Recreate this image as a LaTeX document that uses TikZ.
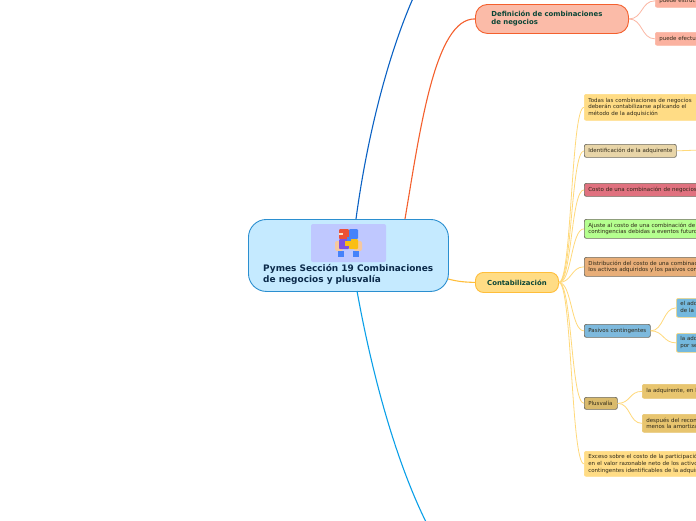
\documentclass[tikz,border=0pt]{standalone}
\usepackage{fontspec}
\setmainfont{DejaVu Sans}
\definecolor{ink}{HTML}{2E2818}
\definecolor{lineyel}{HTML}{FFD97A}
\definecolor{linered}{HTML}{FBB7A4}
\definecolor{cfill}{HTML}{C5EAFF}
\definecolor{cdraw}{HTML}{2B8FD0}
\definecolor{rfill}{HTML}{FBBBA8}
\definecolor{rdraw}{HTML}{F4602E}
\definecolor{yfill}{HTML}{FFDC85}
\definecolor{ydraw}{HTML}{FFBE3A}
\definecolor{greyd}{HTML}{6E6A5E}
\definecolor{navy}{HTML}{0B2A4A}
\definecolor{dkgreen}{HTML}{0A4536}
\definecolor{linedb}{HTML}{0B62C4}
\definecolor{linelb}{HTML}{0BA0E8}
\definecolor{skin}{HTML}{F5C8A0}
\definecolor{pblue}{HTML}{4682FA}
\definecolor{pred}{HTML}{EB5037}
\definecolor{ppur}{HTML}{7D50E1}
\definecolor{pyel}{HTML}{FABE14}
\definecolor{tan}{HTML}{E8C56F}
\tikzset{
  x=1pt,y=-1pt,
  box/.style={draw,rounded corners=2pt,line width=0.7pt,anchor=north west,inner xsep=4pt,inner ysep=0pt,align=left,font=\fontsize{5.5}{6.8}\selectfont,text=ink},
  major/.style={draw,line width=0.9pt,anchor=north west,inner xsep=0pt,inner ysep=0pt,align=left,font=\fontsize{6.9}{8}\selectfont\bfseries},
  conn/.style={draw=#1,line width=0.8pt},
  maincon/.style={draw=#1,line width=1.1pt},
}
\begin{document}
\begin{tikzpicture}
\useasboundingbox (0,0) rectangle (696,520);
\clip (0,0) rectangle (696,520);
\fill[white] (0,0) rectangle (696,520);
% free ends
\coordinate (topblue) at (414,-4);
\coordinate (botblue) at (427,524);
\coordinate (adqend) at (700,150);
\coordinate (ctop) at (356,219);
\coordinate (cbot) at (357,291);
\coordinate (cred) at (405,219);
\coordinate (cyel) at (448,279);
% major nodes
\node[major,draw=cdraw,fill=cfill,rounded corners=18pt,minimum width=200pt,minimum height=72pt] (center) at (248,219) {};
\node[major,draw=rdraw,fill=rfill,rounded corners=12pt,minimum width=153pt,minimum height=29pt,text width=121pt,text=dkgreen,inner xsep=16pt] (defin) at (475,4) {Definición de combinaciones\\de negocios};
\node[major,draw=ydraw,fill=yfill,rounded corners=8pt,minimum width=83pt,minimum height=20pt,text=dkgreen,align=center] (conta) at (475,272) {Contabilización};
% main connectors
\draw[maincon=linedb] (ctop) .. controls (368,130) and (390,50) .. (topblue);
\draw[maincon=rdraw] (cred) .. controls (420,130) and (435,18) .. (defin.west);
\draw[maincon=linelb] (cbot) .. controls (375,390) and (400,470) .. (botblue);
\draw[maincon=ydraw] (cyel) .. controls (460,282) and (465,282) .. (conta.west);
% title and picture
\node[anchor=north west,inner sep=0pt,align=left,text=navy,font=\fontsize{8.95}{11}\selectfont\bfseries] (title) at (263,264) {Pymes Sección 19 Combinaciones\\de negocios y plusvalía};
\fill[rounded corners=2pt,fill={rgb,255:red,191;green,200;blue,255}] (311,224) rectangle (386,262);
\fill[rounded corners=2pt,fill=skin] (335,241) rectangle (343,251);
\fill[rounded corners=2pt,fill=skin] (354,241) rectangle (362,251);
\fill[fill=pblue] (338,251) rectangle (344,257);
\fill[fill=pblue] (353,251) rectangle (359,257);
\fill[rounded corners=1pt,fill=pred] (339,229) rectangle (349,239);
\fill[rounded corners=1pt,fill=pblue] (349,229) rectangle (358,239);
\fill[rounded corners=1pt,fill=ppur] (339,239) rectangle (349,249);
\fill[rounded corners=1pt,fill=pyel] (349,239) rectangle (358,249);
\fill[fill=pyel] (345,241) rectangle (350,246);
\fill[fill=pblue] (347,237) rectangle (351,241);
\fill[fill=skin!60!white] (339,233) rectangle (343,235);
% top-right children
\node[box,draw=linered,fill={rgb,255:red,251;green,178;blue,160},minimum width=60pt,minimum height=13pt,text width=52pt] (e1) at (655,-6) {\mbox{puede estructurarse}};
\node[box,draw=linered,fill={rgb,255:red,251;green,178;blue,160},minimum width=60pt,minimum height=13pt,text width=52pt] (e2) at (655,32) {\mbox{puede efectuarse}};
\draw[conn=linered] (defin.east) .. controls +(14,0) and +(-14,0) .. (e1.west);
\draw[conn=linered] (defin.east) .. controls +(14,0) and +(-14,0) .. (e2.west);
% contabilización children
\node[box,draw=yfill,fill=yfill,minimum width=140pt,minimum height=26pt,text width=132pt] (a1) at (584,94) {Todas las combinaciones de negocios\\deberán contabilizarse aplicando el\\método de la adquisición};
\node[box,draw=greyd,fill={rgb,255:red,232;green,213;blue,168},minimum width=92pt,minimum height=13pt,text width=84pt] (a2) at (584,144) {\mbox{Identificación de la adquirente}};
\node[box,draw=greyd,fill={rgb,255:red,224;green,113;blue,127},minimum width=140pt,minimum height=13pt,text width=132pt] (a3) at (584,183) {Costo de una combinación de negocios};
\node[box,draw=greyd,fill={rgb,255:red,181;green,255;blue,143},minimum width=140pt,minimum height=19pt,text width=132pt] (a4) at (584,219) {Ajuste al costo de una combinación de\\contingencias debidas a eventos futuros};
\node[box,draw=greyd,fill={rgb,255:red,232;green,174;blue,120},minimum width=140pt,minimum height=19pt,text width=132pt] (a5) at (584,257) {Distribución del costo de una combinación\\los activos adquiridos y los pasivos con};
\node[box,draw=greyd,fill={rgb,255:red,125;green,185;blue,221},minimum width=66pt,minimum height=13pt,text width=58pt] (a6) at (584,324) {\mbox{Pasivos contingentes}};
\node[box,draw=greyd,fill={rgb,255:red,217;green,186;blue,108},minimum width=33pt,minimum height=12pt,text width=25pt] (a7) at (584,397) {\mbox{Plusvalía}};
\node[box,draw=yfill,fill=yfill,minimum width=140pt,minimum height=25pt,text width=132pt] (a8) at (584,451) {Exceso sobre el costo de la participación\\en el valor razonable neto de los activos\\contingentes identificables de la adquirida};
\foreach \n in {a1,a2,a3,a4,a5,a6,a7,a8}
  \draw[conn=lineyel] (conta.east) .. controls +(13,0) and +(-13,0) .. (\n.west);
\draw[conn=lineyel] (a2.east) -- (adqend);
% grandchildren
\node[box,draw=lineyel,fill={rgb,255:red,116;green,185;blue,222},minimum width=60pt,minimum height=19pt,text width=52pt] (b1) at (676,298) {el adquirente\\de la adquirida};
\node[box,draw=lineyel,fill={rgb,255:red,116;green,185;blue,222},minimum width=60pt,minimum height=19pt,text width=52pt] (b2) at (676,333) {la adquirente\\por separado};
\draw[conn=lineyel] (a6.east) .. controls +(13,0) and +(-13,0) .. (b1.west);
\draw[conn=lineyel] (a6.east) .. controls +(13,0) and +(-13,0) .. (b2.west);
\node[box,draw=tan,fill=tan,minimum width=100pt,minimum height=14pt,text width=92pt] (b3) at (642,384) {la adquirente, en la};
\node[box,draw=tan,fill=tan,minimum width=100pt,minimum height=18pt,text width=92pt] (b4) at (642,414) {después del recono\\menos la amortizació};
\draw[conn=lineyel] (a7.east) .. controls +(13,0) and +(-13,0) .. (b3.west);
\draw[conn=lineyel] (a7.east) .. controls +(13,0) and +(-13,0) .. (b4.west);
\end{tikzpicture}
\end{document}
